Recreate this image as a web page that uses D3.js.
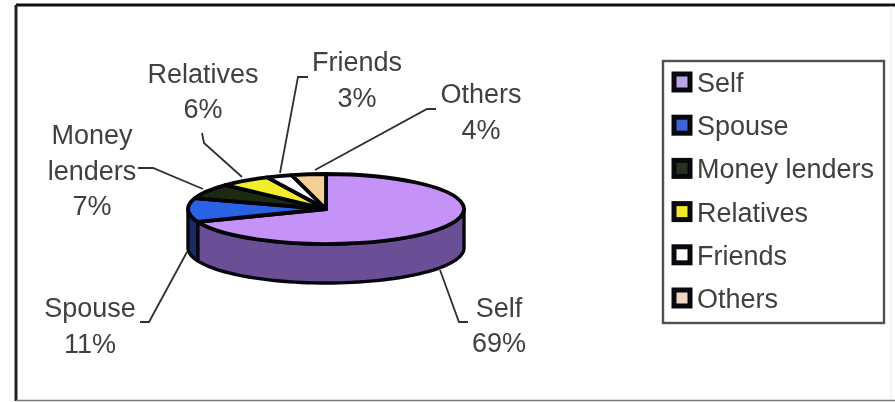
<!DOCTYPE html>
<html><head><meta charset="utf-8">
<script src="https://cdn.jsdelivr.net/npm/d3@7"></script>
<style>
html,body{margin:0;padding:0;background:#fff}
svg{display:block;filter:blur(.7px)}
text{font-family:"Liberation Sans",Arial,sans-serif;font-size:27px;fill:#404040}
</style></head><body><div id="chart"></div>
<script>
const categories=["Self","Spouse","Money lenders","Relatives","Friends","Others"];
const values=[69,11,7,6,3,4];
const topColors=["#c592f7","#2a62e6","#1d2a12","#f2ee2e","#ffffff","#f4cf98"];
const sideColors=["#6a4f96","#1a2a62","#10160a","#8a8618","#909090","#8a7450"];
const legendColors=["#b9a6e6","#3f63d6","#2a3020","#efe92e","#ffffff","#efd6c4"];

const W=895,H=402;
const cx=326,cy=209,rx=138,ry=35,depth=39;
const svg=d3.select("#chart").append("svg").attr("width",W).attr("height",H);
svg.append("rect").attr("width",W).attr("height",H).attr("fill","#fff");

// outer frame
const frame=svg.append("g").attr("fill","none");
frame.append("line").attr("x1",16).attr("x2",W).attr("y1",5).attr("y2",5).attr("stroke","#111").attr("stroke-width",3);
frame.append("line").attr("x1",16).attr("x2",16).attr("y1",5).attr("y2",401).attr("stroke","#222").attr("stroke-width",3);
frame.append("line").attr("x1",16).attr("x2",W).attr("y1",400.5).attr("y2",400.5).attr("stroke","#777").attr("stroke-width",1.5);
frame.append("line").attr("x1",891).attr("x2",891).attr("y1",6).attr("y2",400).attr("stroke","#e8e8e8").attr("stroke-width",1);

const arcs=d3.pie().sort(null).value(d=>d)(values);
const px=d3.scaleLinear().domain([-1,1]).range([cx-rx,cx+rx]);
const py=d3.scaleLinear().domain([-1,1]).range([cy-ry,cy+ry]);

// side wall: visible part of each slice, lower half of the ellipse
const lo=Math.PI/2, hi=3*Math.PI/2;
const wall=d3.area().x(a=>px(Math.sin(a))).y0(a=>py(-Math.cos(a))).y1(a=>py(-Math.cos(a))+depth);
svg.append("g").selectAll("path").data(arcs.filter(d=>d.endAngle>lo&&d.startAngle<hi)).join("path")
  .attr("d",d=>{
    const a=Math.max(d.startAngle,lo),b=Math.min(d.endAngle,hi);
    return wall(d3.range(0,61).map(i=>a+(b-a)*i/60))+"Z";
  })
  .attr("fill",(d,i)=>sideColors[d.index])
  .attr("stroke","#06060e").attr("stroke-width",3.4).attr("stroke-linejoin","round");

// top face
const arc=d3.arc().innerRadius(0).outerRadius(rx);
svg.append("g").attr("transform",`translate(${cx},${cy}) scale(1,${ry/rx})`)
  .selectAll("path").data(arcs).join("path")
  .attr("d",arc).attr("fill",d=>topColors[d.index])
  .attr("stroke","#030308").attr("stroke-width",3.8).attr("stroke-linejoin","round")
  .attr("vector-effect","non-scaling-stroke");

// leader lines
const leaders=[
 [[468,322],[459,322],[440,270]],
 [[140,322],[149,322],[187,252]],
 [[138,168],[153,168],[203,189]],
 [[202,133],[204,143],[242,177]],
 [[308,77],[298,77],[280,173]],
 [[436,109],[427,109],[315,170]]
];
svg.append("g").selectAll("path").data(leaders).join("path")
  .attr("d",d3.line()).attr("fill","none").attr("stroke","#303030").attr("stroke-width",1.8);

// data labels: centre x, baseline of each line
const labelPos=[
 {x:499,ys:[317,352],lines:["Self"]},
 {x:90,ys:[317,353],lines:["Spouse"]},
 {x:92,ys:[144,180,215],lines:["Money","lenders"]},
 {x:203,ys:[83,118],lines:["Relatives"]},
 {x:357,ys:[71,107],lines:["Friends"]},
 {x:481,ys:[103,139],lines:["Others"]}
];
const lab=svg.append("g").attr("text-anchor","middle");
labelPos.forEach((p,i)=>{
  p.lines.concat([values[i]+"%"]).forEach((t,j)=>{
    lab.append("text").attr("x",p.x).attr("y",p.ys[j]).text(t);
  });
});

// legend
svg.append("rect").attr("x",663).attr("y",61).attr("width",221).attr("height",262)
  .attr("fill","#fff").attr("stroke","#505050").attr("stroke-width",2.4);
const legendY=d3.scalePoint().domain(categories).range([82,298]);
const lg=svg.append("g").selectAll("g").data(categories).join("g")
  .attr("transform",d=>`translate(672,${legendY(d)})`);
lg.append("rect").attr("x",2).attr("y",-8).attr("width",16).attr("height",16)
  .attr("fill",(d,i)=>legendColors[i]).attr("stroke","#08080f").attr("stroke-width",5);
lg.append("text").attr("x",25).attr("y",10).text(d=>d);
</script></body></html>
